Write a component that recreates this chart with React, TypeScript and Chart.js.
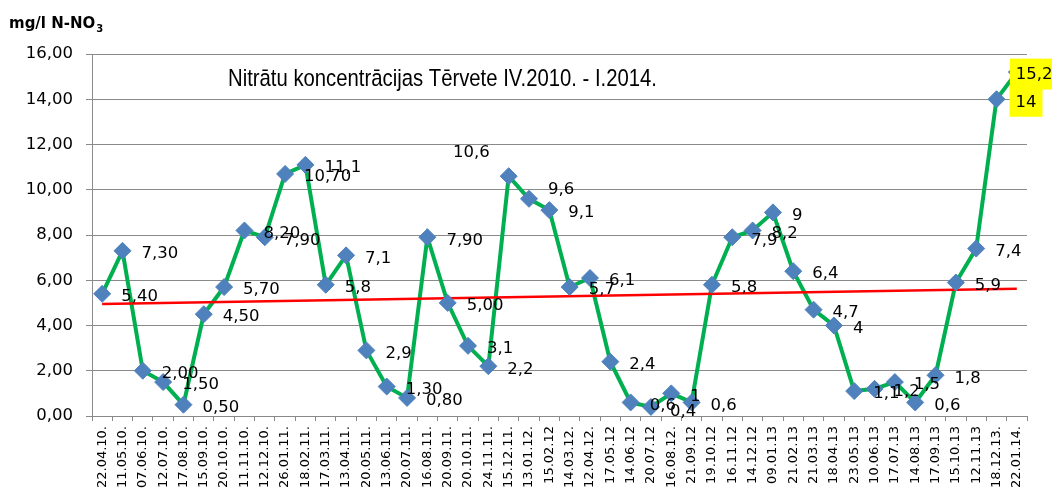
import React, { useEffect, useRef } from "react";
import { Chart, registerables } from "chart.js";

Chart.register(...registerables);

const categories = [
  "22.04.10.", "11.05.10.", "07.06.10.", "12.07.10.", "17.08.10.", "15.09.10.", "20.10.10.", "11.11.10.",
  "12.12.10.", "26.01.11.", "18.02.11.", "17.03.11.", "13.04.11.", "20.05.11.", "13.06.11.", "20.07.11.",
  "16.08.11.", "20.09.11.", "20.10.11.", "24.11.11.", "15.12.11.", "13.01.12.", "15.02.12", "14.03.12.",
  "12.04.12.", "17.05.12", "14.06.12", "20.07.12", "16.08.12.", "21.09.12", "19.10.12", "16.11.12",
  "14.12.12", "09.01.13", "21.02.13", "21.03.13", "18.04.13", "23.05.13", "10.06.13", "17.07.13",
  "14.08.13", "17.09.13", "15.10.13", "12.11.13", "18.12.13.", "22.01.14.",
];

const nitrate = [
  5.4, 7.3, 2.0, 1.5, 0.5, 4.5, 5.7, 8.2, 7.9, 10.7,
  11.1, 5.8, 7.1, 2.9, 1.3, 0.8, 7.9, 5.0, 3.1, 2.2,
  10.6, 9.6, 9.1, 5.7, 6.1, 2.4, 0.6, 0.4, 1.0, 0.6,
  5.8, 7.9, 8.2, 9.0, 6.4, 4.7, 4.0, 1.1, 1.2, 1.5,
  0.6, 1.8, 5.9, 7.4, 14.0, 15.2,
];

const valueLabels = [
  "5,40", "7,30", "2,00", "1,50", "0,50", "4,50", "5,70", "8,20", "7,90", "10,70",
  "11,1", "5,8", "7,1", "2,9", "1,30", "0,80", "7,90", "5,00", "3,1", "2,2",
  "10,6", "9,6", "9,1", "5,7", "6,1", "2,4", "0,6", "0,4", "1", "0,6",
  "5,8", "7,9", "8,2", "9", "6,4", "4,7", "4", "1,1", "1,2", "1,5",
  "0,6", "1,8", "5,9", "7,4", "14", "15,2",
];

// linear trend line end values
const trendStart = 4.95;
const trendEnd = 5.62;

const highlightedLabels = [44, 45];

const yMin = 0;
const yMax = 16;
const yStep = 2;

const chartTitle = "Nitrātu koncentrācijas Tērvete IV.2010. - I.2014.";
const axisTitleMain = "mg/l N-NO";
const axisTitleSub = "3";

const GRID = "#8a8a8a";
const FONT = "'DejaVu Sans', sans-serif";

const labelOverrides: Record<number, { dx?: number; dy?: number; right?: boolean }> = {
  20: { dx: -19, dy: -24, right: true },
  21: { dy: -10 },
  27: { dy: 4 },
  45: { dx: -1 },
};

const trendData = categories.map((_, i) =>
  i === 0 ? trendStart : i === categories.length - 1 ? trendEnd : null
);

const decorPlugin = {
  id: "decor",
  afterDraw(chart: any) {
    const ctx = chart.ctx as CanvasRenderingContext2D;
    const area = chart.chartArea;
    ctx.save();
    // axis title
    ctx.fillStyle = "#000";
    ctx.textBaseline = "alphabetic";
    ctx.textAlign = "left";
    ctx.font = `bold 15px ${FONT}`;
    ctx.fillText(axisTitleMain, 9, 28);
    const w = ctx.measureText(axisTitleMain).width;
    ctx.font = `bold 10px ${FONT}`;
    ctx.fillText(axisTitleSub, 9 + w + 1, 32);

    // chart title
    ctx.font = `24.5px 'Liberation Sans Narrow', 'Liberation Sans', sans-serif`;
    const tw = ctx.measureText(chartTitle).width;
    const target = 429;
    ctx.translate(area.left + 136, 86);
    if (tw > target * 1.08) ctx.scale(target / tw, 1);
    ctx.fillText(chartTitle, 0, 0);
    ctx.restore();

    // data labels
    const meta = chart.getDatasetMeta(2);
    ctx.save();
    ctx.font = `16.5px ${FONT}`;
    ctx.textBaseline = "middle";
    meta.data.forEach((pt: any, i: number) => {
      const text = valueLabels[i];
      const o = labelOverrides[i] || {};
      const dx = o.dx !== undefined ? o.dx : 19;
      const dy = o.dy !== undefined ? o.dy : 2;
      const tw2 = ctx.measureText(text).width;
      const left = o.right ? pt.x + dx - tw2 : pt.x + dx;
      const cy = pt.y + dy;
      if (highlightedLabels.includes(i)) {
        ctx.fillStyle = "#ffff00";
        ctx.fillRect(left - 6, cy - 15.5, tw2 + 12, 31);
      }
      ctx.fillStyle = "#000";
      ctx.textAlign = "left";
      ctx.fillText(text, left, cy + 1);
    });
    ctx.restore();
  },
};

export default function App() {
  const ref = useRef<HTMLCanvasElement | null>(null);
  useEffect(() => {
    document.body.style.margin = "0";
    const canvas = ref.current!;
    const chart = new Chart(canvas, {
      type: "line",
      data: {
        labels: categories,
        datasets: [
          {
            label: "line",
            data: nitrate,
            borderColor: "#00b050",
            borderWidth: 4,
            pointRadius: 0,
            pointHoverRadius: 0,
            tension: 0,
            order: 3,
          },
          {
            label: "trend",
            data: trendData,
            borderColor: "#ff0000",
            borderWidth: 2.5,
            pointRadius: 0,
            spanGaps: true,
            order: 2,
          },
          {
            label: "points",
            data: nitrate,
            showLine: false,
            pointStyle: "rectRot",
            pointRadius: 8.5,
            pointBackgroundColor: "#4f81bd",
            pointBorderColor: "#4f81bd",
            pointBorderWidth: 1,
            order: 1,
          },
        ],
      },
      options: {
        responsive: false,
        animation: false,
        devicePixelRatio: 1,
        layout: { padding: { top: 54, right: 25, left: 0, bottom: 0 } },
        plugins: {
          legend: { display: false },
          tooltip: { enabled: false },
          title: { display: false },
        },
        scales: {
          x: {
            type: "category",
            offset: true,
            grid: {
              display: true,
              drawOnChartArea: false,
              drawTicks: true,
              tickLength: 5,
              color: GRID,
              offset: true,
            },
            border: { display: true, color: GRID },
            ticks: {
              autoSkip: false,
              minRotation: 90,
              maxRotation: 90,
              padding: 5,
              color: "#000",
              font: { family: FONT, size: 13 },
            },
            afterFit(scale: any) {
              scale.height = 77;
            },
          },
          y: {
            min: yMin,
            max: yMax,
            ticks: {
              stepSize: yStep,
              padding: 13,
              color: "#000",
              font: { family: FONT, size: 16.5 },
              callback: (v: any) => Number(v).toFixed(2).replace(".", ","),
            },
            grid: { color: GRID, tickLength: 6, drawTicks: true },
            border: { display: true, color: GRID },
            afterFit(scale: any) {
              scale.width = 92;
            },
          },
        },
      },
      plugins: [decorPlugin],
    });
    return () => chart.destroy();
  }, []);
  return <canvas ref={ref} width={1052} height={493} style={{ display: "block" }} />;
}
